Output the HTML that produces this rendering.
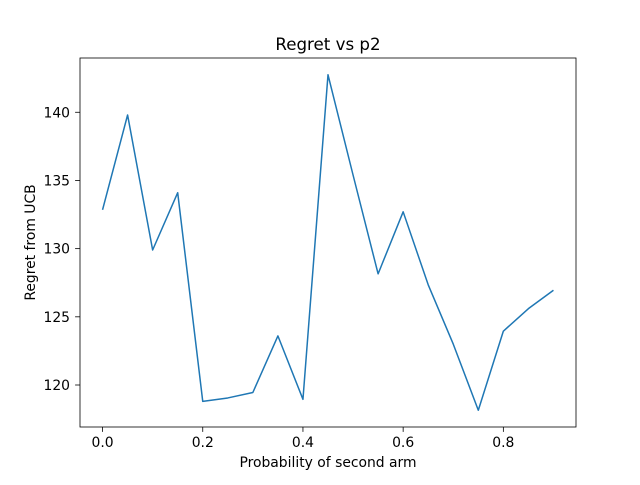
<!DOCTYPE html>
<html><head><meta charset="utf-8"><style>
body{margin:0;background:#fff}
svg text{font-family:"DejaVu Sans","Liberation Sans",sans-serif;fill:#000}
</style></head><body>
<svg id="chart" width="640" height="480" xmlns="http://www.w3.org/2000/svg">
<rect width="640" height="480" fill="#fff"/>
<text x="328" y="50" font-size="16.67" text-anchor="middle">Regret vs p2</text>
<g id="plot"></g>
<rect x="80" y="58" width="496" height="369" fill="none" stroke="#000" stroke-width="0.8"/>
<text x="328" y="467" font-size="13.9" text-anchor="middle">Probability of second arm</text>
<text transform="translate(35,242.5) rotate(-90)" font-size="13.9" text-anchor="middle">Regret from UCB</text>
</svg>
<script>
const xValues=[0,0.05,0.1,0.15,0.2,0.25,0.3,0.35,0.4,0.45,0.5,0.55,0.6,0.65,0.7,0.75,0.8,0.85,0.9];
const regret=[132.85,139.8,129.9,134.1,118.8,119.05,119.45,123.6,118.95,142.75,135.4,128.15,132.7,127.35,123.0,118.15,123.95,125.6,126.95];
const xTicks=[0,0.2,0.4,0.6,0.8];
const xTickLabels=["0.0","0.2","0.4","0.6","0.8"];
const yTicks=[120,125,130,135,140];
const yTickLabels=["120","125","130","135","140"];
const L=80,R=576,T=58,B=427;
const xmin=Math.min(...xValues),xmax=Math.max(...xValues),xm=(xmax-xmin)*0.05;
const ymin=Math.min(...regret),ymax=Math.max(...regret),ym=(ymax-ymin)*0.05;
const sx=v=>L+(v-(xmin-xm))/((xmax+xm)-(xmin-xm))*(R-L);
const sy=v=>B-(v-(ymin-ym))/((ymax+ym)-(ymin-ym))*(B-T);
const NS="http://www.w3.org/2000/svg";
const g=document.getElementById('plot');
function mk(t,a){const e=document.createElementNS(NS,t);for(const k in a)e.setAttribute(k,a[k]);g.appendChild(e);return e;}
xTicks.forEach((v,i)=>{
 const l=mk('line',{x1:sx(v),x2:sx(v),y1:B,y2:B+4.9,stroke:'#000','stroke-width':0.8});
 
 
 const t=mk('text',{x:sx(v),y:B+20,'font-size':13.9,'text-anchor':'middle'});t.textContent=xTickLabels[i];
 
 
});
yTicks.forEach((v,i)=>{
 const l=mk('line',{x1:L-4.9,x2:L,y1:sy(v),y2:sy(v),stroke:'#000','stroke-width':0.8});
 
 
 const t=mk('text',{x:L-10,y:sy(v)+5,'font-size':13.9,'text-anchor':'end'});t.textContent=yTickLabels[i];
 
 
});
const p=mk('polyline',{points:xValues.map((x,i)=>sx(x)+','+sy(regret[i])).join(' '),fill:'none',stroke:'#1f77b4','stroke-width':1.5,'stroke-linejoin':'round'});


</script>
</body></html>
